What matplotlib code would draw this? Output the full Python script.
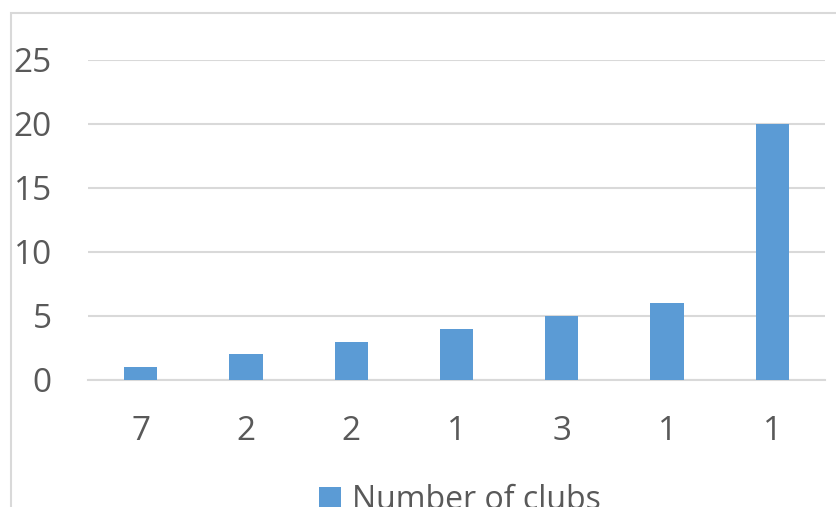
import matplotlib.pyplot as plt
from matplotlib.patches import Rectangle

categories = ['7', '2', '2', '1', '3', '1', '1']
clubs = [1, 2, 3, 4, 5, 6, 20]
y_ticks = [0, 5, 10, 15, 20, 25]

bar_color = '#5B9BD5'
text_color = '#595959'
grid_color = '#D9D9D9'

plt.rcParams['font.family'] = ['Open Sans', 'DejaVu Sans']

fig = plt.figure(figsize=(8.36, 5.07), dpi=100)
ax = fig.add_axes([88 / 836, 1 - 380 / 507, 737 / 836, 320 / 507])

# chart frame (runs past the right and bottom edges)
fig.patches.append(Rectangle((11 / 836, -0.1), 1.0, 1 - 13 / 507 + 0.1,
                             transform=fig.transFigure, fill=False,
                             edgecolor=grid_color, linewidth=1.5, zorder=0))

xs = range(len(categories))
ax.bar(xs, clubs, width=0.315, color=bar_color, label='Number of clubs', zorder=3)

ax.set_xlim(-0.5, len(categories) - 0.5)
ax.set_ylim(0, 25)
ax.set_xticks(list(xs))
ax.set_xticklabels(categories)
ax.set_yticks(y_ticks)
ax.yaxis.grid(True, color=grid_color, linewidth=1.5, zorder=0)
ax.tick_params(axis='both', length=0, labelsize=24, labelcolor=text_color)
ax.tick_params(axis='x', pad=25)
ax.tick_params(axis='y', pad=26)
for s in ['top', 'right', 'left']:
    ax.spines[s].set_visible(False)
ax.spines['bottom'].set_color(grid_color)
ax.spines['bottom'].set_linewidth(1.5)

leg = fig.legend(loc='upper center', bbox_to_anchor=(460 / 836, 1 - 471 / 507),
                 frameon=False, fontsize=23, handlelength=0.66, handleheight=0.66,
                 handletextpad=0.35, borderaxespad=0)
for t in leg.get_texts():
    t.set_color(text_color)

fig.savefig('out.png', dpi=100)
